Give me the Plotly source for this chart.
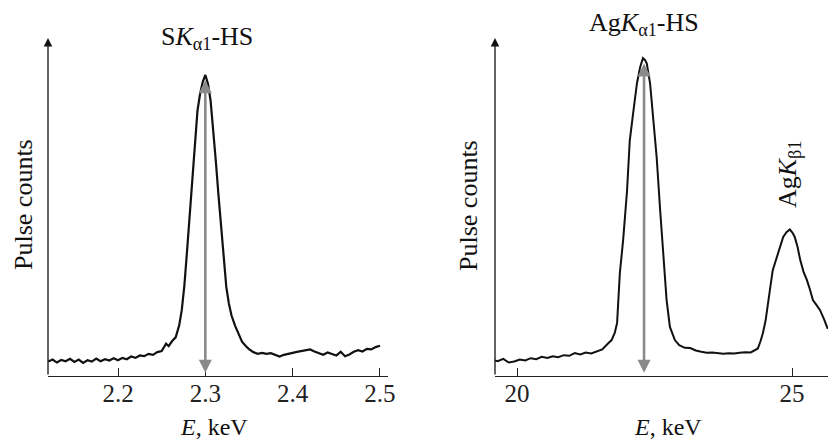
import plotly.graph_objects as go

# ---------------- data ----------------
s_energy = [2.120, 2.125, 2.130, 2.135, 2.140, 2.145, 2.150, 2.155, 2.160, 2.165,
            2.170, 2.175, 2.180, 2.185, 2.190, 2.195, 2.200, 2.205, 2.210, 2.215,
            2.220, 2.225, 2.230, 2.235, 2.240, 2.245, 2.250, 2.255, 2.258, 2.262,
            2.266, 2.270, 2.273, 2.276, 2.279, 2.282, 2.285, 2.288, 2.291, 2.294,
            2.297, 2.300, 2.303, 2.306, 2.309, 2.312, 2.315, 2.318, 2.321, 2.324,
            2.327, 2.330, 2.334, 2.338, 2.342, 2.346, 2.350, 2.355, 2.360, 2.365,
            2.370, 2.375, 2.380, 2.385, 2.390, 2.395, 2.400, 2.405, 2.410, 2.415,
            2.420, 2.425, 2.430, 2.435, 2.440, 2.445, 2.450, 2.455, 2.460, 2.465,
            2.470, 2.475, 2.480, 2.485, 2.490, 2.495, 2.500]
s_counts = [4.3, 4.9, 4.0, 4.8, 4.4, 5.1, 4.2, 4.9, 3.9, 4.7,
            4.3, 5.2, 4.4, 5.0, 4.6, 5.3, 4.7, 5.4, 5.0, 5.8,
            5.4, 6.1, 5.9, 6.6, 6.3, 7.1, 7.4, 9.6, 8.9, 10.4,
            11.5, 15.0, 19.6, 27.0, 37.0, 48.0, 58.0, 70.0, 79.0, 84.0,
            87.5, 89.6, 87.0, 82.0, 74.0, 64.0, 54.0, 44.0, 34.0, 26.5,
            21.5, 18.0, 15.0, 12.3, 10.2, 9.0, 8.0, 7.1, 6.6, 6.9,
            6.6, 6.8, 6.2, 5.8, 6.3, 6.7, 6.9, 7.2, 7.5, 7.8,
            7.9, 7.3, 6.8, 6.3, 7.0, 6.6, 6.1, 7.2, 5.9, 6.4,
            7.2, 7.7, 7.3, 8.1, 7.9, 8.6, 9.0]

ag_energy = [19.56, 19.65, 19.75, 19.85, 19.95, 20.05, 20.15, 20.25, 20.35, 20.45,
             20.55, 20.65, 20.75, 20.85, 20.95, 21.05, 21.15, 21.25, 21.35, 21.45,
             21.55, 21.65, 21.72, 21.78, 21.82, 21.87, 21.93, 22.00, 22.05, 22.11,
             22.18, 22.24, 22.29, 22.33, 22.36, 22.42, 22.48, 22.54, 22.60, 22.66,
             22.72, 22.78, 22.87, 22.95, 23.05, 23.15, 23.25, 23.35, 23.45, 23.55,
             23.65, 23.75, 23.85, 23.95, 24.05, 24.15, 24.25, 24.32, 24.38, 24.43,
             24.47, 24.52, 24.56, 24.61, 24.65, 24.70, 24.75, 24.80, 24.84, 24.90,
             24.96, 25.01, 25.05, 25.10, 25.15, 25.21, 25.27, 25.33, 25.38, 25.45,
             25.51, 25.58, 25.65]
ag_counts = [4.8, 4.4, 5.1, 4.0, 4.3, 4.9, 4.6, 5.3, 5.0, 5.7,
             5.4, 5.9, 5.6, 6.2, 6.0, 6.8, 6.4, 7.0, 6.7, 7.3,
             7.9, 9.6, 10.7, 13.0, 15.8, 30.6, 40.5, 55.0, 70.0, 78.0,
             87.0, 92.0, 94.6, 94.0, 93.0, 87.0, 75.0, 65.0, 50.0, 35.4,
             22.6, 14.6, 10.7, 9.2, 8.4, 8.3, 7.6, 7.2, 6.9, 7.0,
             6.8, 6.6, 6.8, 6.7, 6.9, 7.1, 7.0, 7.6, 8.2, 10.5,
             12.7, 16.5, 20.6, 27.0, 31.5, 34.0, 36.5, 39.5, 41.4, 42.8,
             43.6, 42.6, 41.4, 38.5, 34.5, 31.0, 28.6, 25.5, 22.6, 21.0,
             19.6, 17.0, 14.0]

s_peak = 2.30
ag_peak = 22.31
s_ticks = [2.2, 2.3, 2.4, 2.5]
ag_ticks = [20, 25]

# ---------------- layout helpers ----------------
W, H = 828, 441
def px(x):
    return x / W
def py(y):
    return 1 - y / H

FONT = "Liberation Serif"
FS = 26
FS_AX = 24
Y_TOP = 100.6

fig = go.Figure()
fig.add_trace(go.Scatter(x=s_energy, y=s_counts, mode="lines",
                         line=dict(color="#111111", width=2.2),
                         xaxis="x", yaxis="y", showlegend=False))
fig.add_trace(go.Scatter(x=ag_energy, y=ag_counts, mode="lines",
                         line=dict(color="#111111", width=2.0),
                         xaxis="x2", yaxis="y2", showlegend=False))

s_range = [2.1198, 2.5092]
ag_range = [19.6, 25.6545]

axis_common = dict(showgrid=False, zeroline=False, showline=True, automargin=False,
                   linecolor="#222222", linewidth=1.3, ticks="inside",
                   ticklen=8, tickwidth=1.2, tickcolor="#222222",
                   ticklabelstandoff=-5,
                   tickfont=dict(family=FONT, size=FS_AX + 1, color="#222222"))

fig.update_layout(
    width=W, height=H,
    margin=dict(l=0, r=0, t=0, b=0, pad=0, autoexpand=False),
    paper_bgcolor="white", plot_bgcolor="white",
    xaxis=dict(domain=[px(48), px(388)], range=s_range, tickvals=s_ticks,
               ticktext=[f"{t:.1f}" for t in s_ticks], anchor="y", **axis_common),
    yaxis=dict(domain=[py(376), py(38)], range=[0, Y_TOP], visible=False,
               automargin=False, anchor="x"),
    xaxis2=dict(domain=[px(495), px(828)], range=ag_range, tickvals=ag_ticks,
                ticktext=[str(t) for t in ag_ticks], anchor="y2", **axis_common),
    yaxis2=dict(domain=[py(376), py(38)], range=[0, Y_TOP], visible=False,
                automargin=False, anchor="x2"),
)

ann = []
# y-axis arrows
for xa, ya, x0 in (("x", "y", s_range[0]), ("x2", "y2", ag_range[0])):
    ann.append(dict(x=x0, y=Y_TOP, ax=x0, ay=0, xref=xa, yref=ya, axref=xa, ayref=ya,
                    showarrow=True, arrowhead=2, arrowsize=1.3, arrowwidth=1.3,
                    arrowcolor="#111111", text=""))
# gray double arrows
for xa, ya, xp, top in (("x", "y", s_peak, 88.0), ("x2", "y2", ag_peak, 93.0)):
    ann.append(dict(x=xp, y=top, ax=xp, ay=0.5, xref=xa, yref=ya, axref=xa, ayref=ya,
                    showarrow=True, arrowhead=2, arrowside="end+start", arrowsize=1.0,
                    arrowwidth=2.6, arrowcolor="#8a8a8a", text="", standoff=0, startstandoff=0))

def label(x, y, text, angle=0, size=FS):
    return dict(x=px(x), y=py(y), xref="paper", yref="paper", showarrow=False,
                xanchor="center", yanchor="middle", text=text, textangle=angle,
                font=dict(family=FONT, size=size, color="#111111"))

ann += [
    label(207, 38, "S<i>K</i><sub>α1</sub>-HS"),
    label(644, 24, "Ag<i>K</i><sub>α1</sub>-HS"),
    label(789, 175, "Ag<i>K</i><sub>β1</sub>", -90),
    label(23, 205, "Pulse counts", -90),
    label(468, 205, "Pulse counts", -90),
    label(214, 427, "<i>E</i>, keV", size=FS_AX),
    label(668, 427, "<i>E</i>, keV", size=FS_AX),
]
fig.update_layout(annotations=ann)

fig.write_html("out.html", config={"displayModeBar": False},
               post_script="document.body.style.margin='0';document.body.style.padding='0';")
